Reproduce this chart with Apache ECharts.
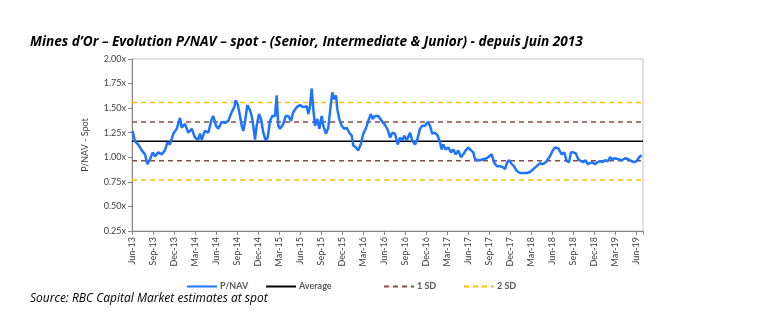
<!DOCTYPE html>
<html><head><meta charset="utf-8">
<script src="https://cdn.jsdelivr.net/npm/echarts@6/dist/echarts.min.js"></script>
<style>html,body{margin:0;padding:0;background:#fff}#c{width:773px;height:323px}</style>
</head><body><div id="c"></div>
<script>
// Months since June 2013
var months = [0.07,0.43,0.90,1.39,1.86,2.19,2.57,2.96,3.29,3.76,4.24,4.71,5.04,5.43,5.90,6.39,6.86,7.10,7.57,8.04,8.53,9.00,9.47,9.71,9.96,10.43,10.90,11.39,11.61,12.0,12.33,12.81,13.29,13.76,14.24,14.61,14.81,15.10,15.43,15.67,15.90,16.14,16.47,16.86,17.10,17.33,17.57,17.81,18.14,18.43,18.76,19.10,19.39,19.71,20.04,20.43,20.67,20.90,21.14,21.61,21.96,22.33,22.71,23.04,23.53,24.0,24.47,24.96,25.19,25.43,25.67,25.90,26.14,26.47,26.76,27.10,27.33,27.71,28.04,28.39,28.61,28.86,29.14,29.33,29.61,29.96,30.29,30.67,31.04,31.39,31.61,32.0,32.33,32.67,33.04,33.39,33.76,34.10,34.39,34.71,35.19,35.67,36.14,36.53,36.86,37.19,37.57,37.96,38.29,38.61,38.90,39.24,39.71,40.04,40.43,40.76,41.14,41.47,41.86,42.24,42.57,42.90,43.29,43.67,44.0,44.24,44.47,44.81,45.19,45.57,45.90,46.24,46.61,47.0,47.33,47.67,48.04,48.43,48.76,49.0,49.33,49.71,50.19,50.67,51.04,51.39,51.71,52.10,52.57,52.96,53.29,53.61,53.90,54.24,54.57,54.96,55.43,55.90,56.39,56.86,57.33,57.81,58.29,58.76,59.24,59.71,60.10,60.43,60.90,61.39,61.76,62.10,62.43,62.71,63.04,63.39,63.76,64.14,64.47,64.81,65.10,65.43,65.76,66.14,66.53,66.86,67.19,67.57,67.96,68.29,68.61,69.0,69.47,69.96,70.43,70.90,71.39,71.76,72.10,72.43,72.81];
var pnav = [1.27,1.16,1.13,1.07,1.03,0.93,0.98,1.05,1.01,1.05,1.03,1.07,1.15,1.13,1.24,1.29,1.40,1.30,1.34,1.25,1.29,1.20,1.18,1.24,1.18,1.27,1.25,1.39,1.42,1.32,1.29,1.36,1.35,1.37,1.46,1.51,1.58,1.54,1.42,1.32,1.27,1.36,1.53,1.48,1.42,1.32,1.18,1.32,1.44,1.39,1.25,1.17,1.20,1.37,1.42,1.42,1.63,1.32,1.29,1.34,1.42,1.42,1.37,1.46,1.51,1.53,1.51,1.52,1.44,1.52,1.70,1.49,1.32,1.39,1.29,1.42,1.32,1.24,1.30,1.53,1.66,1.59,1.63,1.49,1.39,1.32,1.29,1.30,1.25,1.22,1.12,1.10,1.07,1.13,1.24,1.29,1.37,1.44,1.39,1.42,1.42,1.37,1.33,1.28,1.20,1.25,1.24,1.13,1.20,1.17,1.22,1.17,1.25,1.17,1.13,1.18,1.29,1.32,1.32,1.36,1.32,1.24,1.25,1.22,1.15,1.08,1.13,1.08,1.10,1.05,1.08,1.03,1.07,1.00,1.03,1.07,1.10,1.07,1.05,0.98,0.97,0.97,0.98,0.99,1.01,1.03,0.95,0.91,0.91,0.90,0.88,0.95,0.97,0.93,0.91,0.86,0.84,0.84,0.84,0.85,0.88,0.91,0.94,0.93,0.96,1.01,1.07,1.10,1.09,1.03,1.05,0.96,0.95,1.05,1.05,1.04,0.98,0.96,0.95,0.97,0.93,0.94,0.95,0.93,0.95,0.96,0.95,0.97,0.96,1.00,0.98,0.99,0.98,0.97,0.99,0.98,0.96,0.95,0.96,1.00,1.02];
var tickLabels = ["Jun-13","Sep-13","Dec-13","Mar-14","Jun-14","Sep-14","Dec-14","Mar-15","Jun-15","Sep-15","Dec-15","Mar-16","Jun-16","Sep-16","Dec-16","Mar-17","Jun-17","Sep-17","Dec-17","Mar-18","Jun-18","Sep-18","Dec-18","Mar-19","Jun-19"];
var average = 1.163;
var sd = 0.197;
var xMax = 73;

var font = 'Lato, "Open Sans", sans-serif';
var tfont = '"Open Sans", sans-serif';
var chart = echarts.init(document.getElementById('c'));
function flat(v){ return [[0, v],[xMax, v]]; }
var lineData = months.map(function(m,i){ return [m, pnav[i]]; });
function leg(name, left){
  return {data: [name], left: left, top: 277, itemWidth: 30, itemHeight: 10, itemGap: 5,
    itemStyle: {opacity: 0},
    textStyle: {fontFamily: font, fontSize: 9, color: '#595959', fontWeight: 'bold', padding: [0,0,0,-2]}};
}
chart.setOption({
  animation: false,
  backgroundColor: '#fff',
  graphic: [
    {type:'text', left: 30, top: 35, style:{text:"Mines d\u2019Or \u2013 Evolution P/NAV \u2013 spot - (Senior, Intermediate & Junior) - depuis Juin 2013", font:'italic bold 13.6px '+tfont, fill:'#000'}},
    {type:'text', left: 30, top: 293, style:{text:"Source: RBC Capital Market estimates at spot", font:'italic 12px '+tfont, fill:'#000'}}
  ],
  grid: {left: 132, right: 130, top: 59, bottom: 92, show: true, borderColor: '#bfbfbf', borderWidth: 1},
  legend: [leg('P/NAV', 181), leg('Average', 260), leg('1 SD', 378), leg('2 SD', 458)],
  xAxis: {
    type: 'value', min: 0, max: xMax, interval: 3,
    splitLine: {show: false},
    axisLine: {lineStyle: {color: '#868686'}},
    axisTick: {show: true, length: 4, lineStyle: {color: '#868686'}},
    axisLabel: {rotate: 90, fontFamily: font, fontSize: 9, color: '#404040', margin: 6,
      formatter: function(v){ var i = Math.round(v/3); return (v % 3 === 0 && tickLabels[i]) ? tickLabels[i] : ''; }}
  },
  yAxis: {
    type: 'value', min: 0.25, max: 2.0, interval: 0.25,
    name: 'P/NAV - Spot', nameLocation: 'middle', nameGap: 42,
    nameTextStyle: {fontFamily: font, fontSize: 9, color: '#404040'},
    splitLine: {show: false},
    axisLine: {show: true, lineStyle: {color: '#868686'}},
    axisTick: {show: true, length: 4, lineStyle: {color: '#868686'}},
    axisLabel: {fontFamily: font, fontSize: 9, color: '#404040', margin: 6,
      formatter: function(v){ return v.toFixed(2) + 'x'; }}
  },
  series: [
    {name: '2 SD', type: 'line', data: flat(average + 2*sd), symbol: 'none', lineStyle: {color: '#FFC000', width: 1.5, type: [5,4]}, itemStyle: {color: '#FFC000'}, z: 2},
    {name: '2 SD', type: 'line', data: flat(average - 2*sd), symbol: 'none', lineStyle: {color: '#FFC000', width: 1.5, type: [5,4]}, itemStyle: {color: '#FFC000'}, z: 2},
    {name: '1 SD', type: 'line', data: flat(average + sd), symbol: 'none', lineStyle: {color: '#8E4B48', width: 1.5, type: [5,4]}, itemStyle: {color: '#8E4B48'}, z: 2},
    {name: '1 SD', type: 'line', data: flat(average - sd), symbol: 'none', lineStyle: {color: '#8E4B48', width: 1.5, type: [5,4]}, itemStyle: {color: '#8E4B48'}, z: 2},
    {name: 'Average', type: 'line', data: flat(average), symbol: 'none', lineStyle: {color: '#000', width: 1.5}, itemStyle: {color: '#000'}, z: 3},
    {name: 'P/NAV', type: 'line', data: lineData, symbol: 'none', lineStyle: {color: '#1F74FF', width: 2.5}, itemStyle: {color: '#1F74FF'}, z: 4}
  ]
});
</script></body></html>
